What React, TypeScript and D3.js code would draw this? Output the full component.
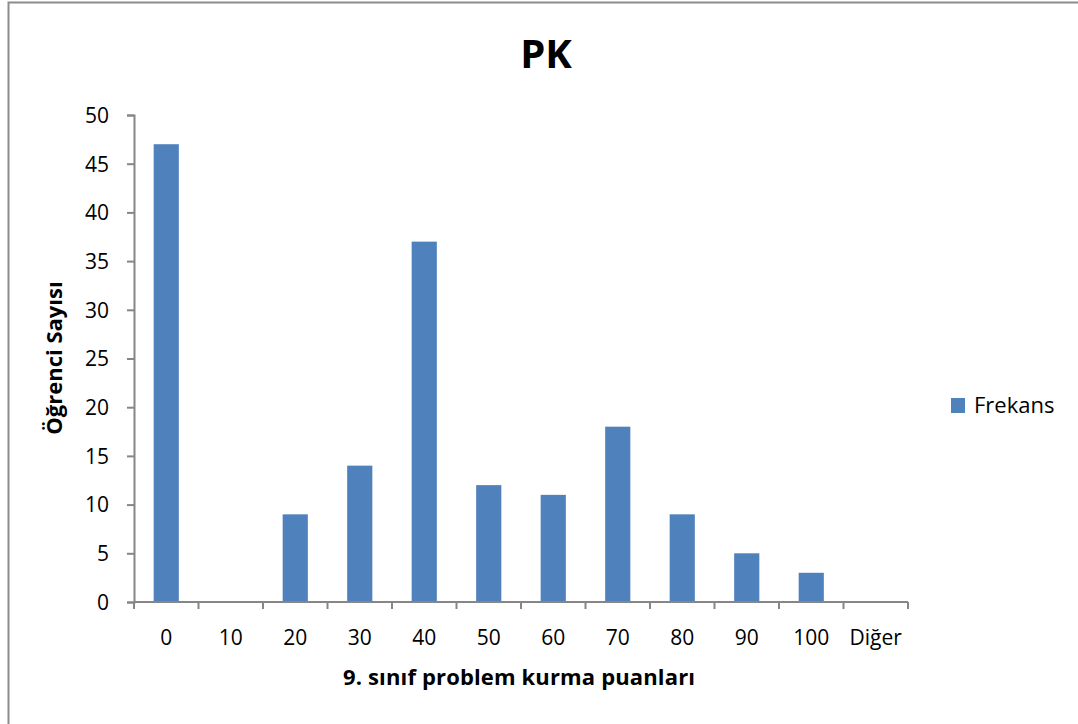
import { useEffect, useRef } from "react";
import * as d3 from "d3";

const categories = ["0", "10", "20", "30", "40", "50", "60", "70", "80", "90", "100", "Diğer"];
const frekans = [47, 0, 9, 14, 37, 12, 11, 18, 9, 5, 3, 0];
const yTicks = [0, 5, 10, 15, 20, 25, 30, 35, 40, 45, 50];

const W = 1078;
const H = 724;
const FONT = "'Open Sans', 'Noto Sans', sans-serif";

const App = () => {
    const ref = useRef<SVGSVGElement>(null);

    useEffect(() => {
        const svg = d3.select(ref.current);
        svg.selectAll("*").remove();

        // chart frame
        svg.append("rect")
            .attr("x", 8.5)
            .attr("y", 2.5)
            .attr("width", W + 10)
            .attr("height", H + 10)
            .attr("fill", "white")
            .attr("stroke", "#8c8c8c")
            .attr("stroke-width", 2);

        const x = d3.scaleBand()
            .domain(categories)
            .range([134, 908])
            .paddingInner(0.61)
            .paddingOuter(0.305);
        const y = d3.scaleLinear()
            .domain([0, 50])
            .range([602, 115]);

        svg.append("text")
            .attr("x", 546)
            .attr("y", 68)
            .attr("text-anchor", "middle")
            .style("font-family", FONT)
            .style("font-weight", "bold")
            .style("font-size", "40px")
            .text("PK");

        svg.append("g")
            .selectAll("rect")
            .data(frekans)
            .enter()
            .append("rect")
                .attr("x", (d, i) => x(categories[i]) as number)
                .attr("y", (d) => y(d))
                .attr("width", x.bandwidth())
                .attr("height", (d) => y(0) - y(d))
                .attr("fill", "#4f81bd");

        // y axis
        const yAxis = svg.append("g")
            .attr("transform", "translate(134,0)")
            .call(d3.axisLeft(y).tickValues(yTicks).tickSize(7).tickPadding(18));
        // x axis, ticks sit between the categories
        const step = x.step();
        const bounds = d3.range(categories.length + 1).map((i) => 134 + i * step);
        const xg = svg.append("g");
        xg.append("line")
            .attr("x1", 134).attr("x2", 908)
            .attr("y1", y(0)).attr("y2", y(0));
        xg.selectAll("line.t")
            .data(bounds)
            .enter()
            .append("line")
                .attr("class", "t")
                .attr("x1", (d) => d).attr("x2", (d) => d)
                .attr("y1", y(0)).attr("y2", y(0) + 7);
        xg.selectAll("text")
            .data(categories)
            .enter()
            .append("text")
                .attr("x", (d) => (x(d) as number) + x.bandwidth() / 2)
                .attr("y", 645)
                .attr("text-anchor", "middle")
                .text((d) => d);
        xg.selectAll("line").attr("stroke", "#868686").attr("stroke-width", 2);

        yAxis.select(".domain").attr("stroke", "#868686").attr("stroke-width", 2);
        yAxis.selectAll(".tick line").attr("stroke", "#868686").attr("stroke-width", 2);
        svg.selectAll("g text")
            .style("font-family", FONT)
            .style("font-size", "21px")
            .attr("fill", "black");
        yAxis.selectAll("text").attr("dy", "0.35em");

        svg.append("text")
            .attr("x", 519)
            .attr("y", 685)
            .attr("text-anchor", "middle")
            .style("font-family", FONT)
            .style("font-weight", "bold")
            .style("font-size", "22px")
            .attr("textLength", 352)
            .text("9. sınıf problem kurma puanları");

        svg.append("text")
            .attr("transform", "translate(62,358) rotate(-90)")
            .attr("text-anchor", "middle")
            .style("font-family", FONT)
            .style("font-weight", "bold")
            .style("font-size", "22px")
            .text("Öğrenci Sayısı");

        // legend
        svg.append("rect")
            .attr("x", 951).attr("y", 398)
            .attr("width", 14).attr("height", 15)
            .attr("fill", "#4f81bd");
        svg.append("text")
            .attr("x", 974).attr("y", 413)
            .style("font-family", FONT)
            .style("font-size", "22px")
            .text("Frekans");
    }, []);

    return (
        <svg
            ref={ref}
            width={W}
            height={H}
            style={{ position: "absolute", left: 0, top: 0, background: "white" }}
        />
    );
};

export default App;
